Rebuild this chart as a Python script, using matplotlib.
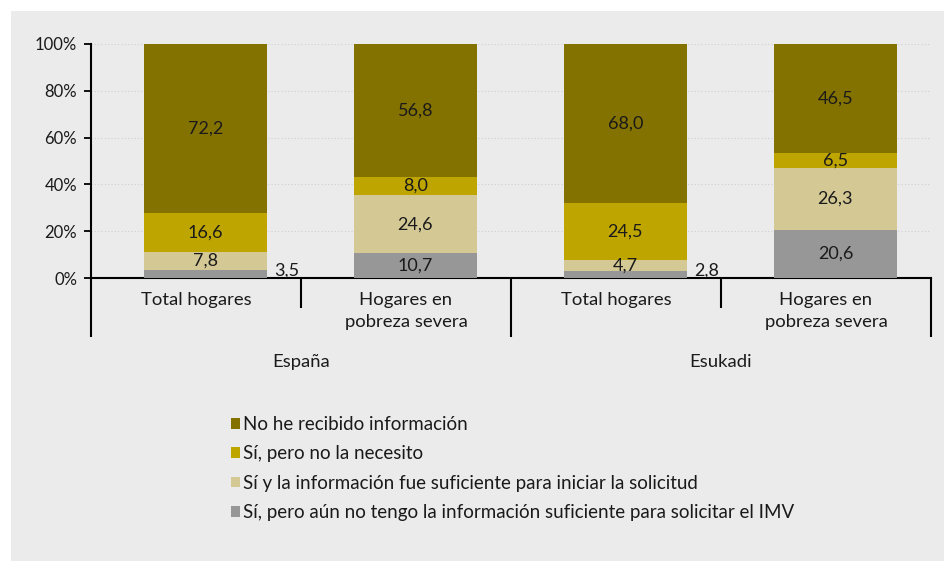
import matplotlib.pyplot as plt
import matplotlib.transforms as mtransforms
from matplotlib.patches import Rectangle
import numpy as np

plt.rcParams['font.family'] = ['Lato', 'DejaVu Sans']

# Data
categories = ["Total hogares", "Hogares en\npobreza severa", "Total hogares", "Hogares en\npobreza severa"]
groups = ["España", "Esukadi"]
series_names = [
    "No he recibido información",
    "Sí, pero no la necesito",
    "Sí y la información fue suficiente para iniciar la solicitud",
    "Sí, pero aún no tengo la información suficiente para solicitar el IMV",
]
aun_no_suficiente = [3.5, 10.7, 2.8, 20.6]
suficiente = [7.8, 24.6, 4.7, 26.3]
no_necesito = [16.6, 8.0, 24.5, 6.5]
no_recibido = [72.2, 56.8, 68.0, 46.5]
yticks = [0, 20, 40, 60, 80, 100]

colors = {
    "no_recibido": "#847200",
    "no_necesito": "#bea500",
    "suficiente": "#d4c895",
    "aun_no": "#979797",
}
bg = "#ebebeb"
txt = "#1a1a1a"

W, H = 945, 561
fig = plt.figure(figsize=(W / 100, H / 100), dpi=100)
fig.patch.set_facecolor("white")
fig.patches.append(Rectangle((11 / W, 0), 1 - 11 / W, 1 - 11 / H, transform=fig.transFigure,
                             facecolor=bg, edgecolor="none", zorder=-10))

ax_l, ax_r, ax_t, ax_b = 91, 931, 44, 278
ax = fig.add_axes([ax_l / W, 1 - ax_b / H, (ax_r - ax_l) / W, (ax_b - ax_t) / H])
ax.set_facecolor(bg)

n = len(categories)
x = np.arange(n) + 0.545
width = 0.586

stack = [
    (aun_no_suficiente, colors["aun_no"]),
    (suficiente, colors["suficiente"]),
    (no_necesito, colors["no_necesito"]),
    (no_recibido, colors["no_recibido"]),
]
bottom = np.zeros(n)
containers = []
for vals, col in stack:
    vals = np.array(vals)
    c = ax.bar(x, vals, width, bottom=bottom, color=col, edgecolor="none", zorder=3)
    containers.append(c)
    for i, v in enumerate(vals):
        label = f"{v:.1f}".replace(".", ",")
        if v < 4:
            # small segments labelled beside the bar
            ax.annotate(label, xy=(x[i] + width / 2, 0), xytext=(20, 2),
                        textcoords="offset pixels", ha="center", va="baseline",
                        fontsize=13, color=txt, zorder=5)
        else:
            ax.text(x[i], bottom[i] + v / 2, label,
                    ha="center", va="center", fontsize=13, color=txt, zorder=5)
    bottom = bottom + vals

ax.set_xlim(0, n)
ax.set_ylim(0, 100)
ax.set_yticks(yticks)
ax.set_yticklabels([f"{t}%" for t in yticks], fontsize=12, color=txt)
ax.tick_params(axis="y", direction="out", length=5, width=1.3, color="black", pad=5)
ax.set_xticks([])
for t in yticks[1:]:
    ax.axhline(t, color="#cfcfcf", lw=0.8, ls=(0, (1, 2)), zorder=1)

for s in ["top", "right"]:
    ax.spines[s].set_visible(False)
for s in ["left", "bottom"]:
    ax.spines[s].set_linewidth(1.5)
    ax.spines[s].set_color("black")

# Multi-level category axis
trans = mtransforms.blended_transform_factory(ax.transData, ax.transAxes)
ah = ax_b - ax_t
short = 30 / ah
long_ = 59 / ah
for b in range(n + 1):
    depth = long_ if b % 2 == 0 else short
    ax.plot([b, b], [0, -depth], transform=trans, color="black", lw=1.5, clip_on=False,
            solid_capstyle="butt")
for i, cat in enumerate(categories):
    ax.text(i + 0.5, -14 / ah, cat, transform=trans, ha="center", va="top",
            fontsize=13.3, color=txt, linespacing=1.45)
for g, name in enumerate(groups):
    ax.text(2 * g + 1, -84 / ah, name, transform=trans, ha="center", va="center",
            fontsize=13.3, color=txt)

# Legend
handles = containers[::-1]
leg = fig.legend(handles, series_names, loc="upper left",
                 bbox_to_anchor=(231 / W, 1 - 416 / H), frameon=False,
                 fontsize=13.5, handlelength=0.5, handleheight=0.5,
                 handletextpad=0.12, labelspacing=0.66, borderpad=0, borderaxespad=0)
for t in leg.get_texts():
    t.set_color(txt)

fig.savefig("out.png", dpi=100, facecolor=fig.get_facecolor())
